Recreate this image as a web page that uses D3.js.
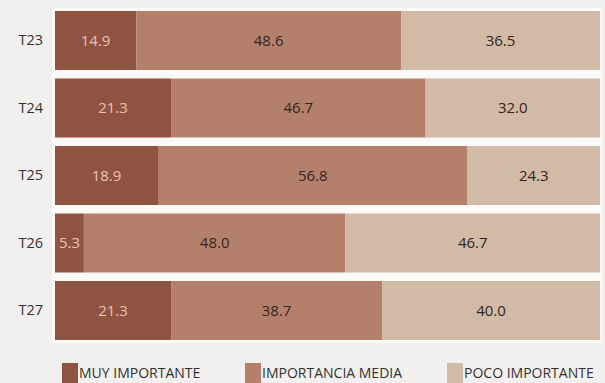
<!DOCTYPE html>
<html>
<head>
<meta charset="utf-8">
<script src="https://cdn.jsdelivr.net/npm/d3@7"></script>
<style>
  html, body { margin: 0; padding: 0; background: #f1f0ee; }
  svg { display: block; }
  text { font-family: "Open Sans", "Noto Sans", sans-serif; }
</style>
</head>
<body>
<svg id="chart" width="605" height="383"></svg>
<script>
// Survey periods and the share (%) of answers in each importance band
const periods = ["T23", "T24", "T25", "T26", "T27"];
const muyImportante = [14.9, 21.3, 18.9, 5.3, 21.3];
const importanciaMedia = [48.6, 46.7, 56.8, 48.0, 38.7];
const pocoImportante = [36.5, 32.0, 24.3, 46.7, 40.0];
const seriesNames = ["MUY IMPORTANTE", "IMPORTANCIA MEDIA", "POCO IMPORTANTE"];

const colors = ["#8e5341", "#b5806b", "#d1baa6"];
const labelColors = ["#e9c4b4", "#35241f", "#35241f"];

const rows = periods.map((p, i) => ({
  period: p,
  [seriesNames[0]]: muyImportante[i],
  [seriesNames[1]]: importanciaMedia[i],
  [seriesNames[2]]: pocoImportante[i]
}));

const svg = d3.select("#chart");
const plotLeft = 55, plotRight = 600, plotTop = 11, plotBottom = 340;

const x = d3.scaleLinear().domain([0, 100]).range([plotLeft, plotRight]);
const y = d3.scaleBand().domain(periods).range([plotTop, plotBottom])
  .paddingInner(0.126).paddingOuter(0);

// light backing behind the bar block
svg.append("rect")
  .attr("x", plotLeft - 3).attr("y", plotTop - 3)
  .attr("width", plotRight - plotLeft + 5).attr("height", plotBottom - plotTop + 6)
  .attr("fill", "#fbfaf9");

const stacked = d3.stack().keys(seriesNames)(rows);

const groups = svg.append("g").selectAll("g")
  .data(stacked).join("g")
  .attr("fill", (d, i) => colors[i]);

groups.selectAll("rect")
  .data(d => d).join("rect")
  .attr("x", d => x(d[0]))
  .attr("y", d => y(d.data.period))
  .attr("width", d => x(d[1]) - x(d[0]))
  .attr("height", y.bandwidth());

// value labels centred in each segment
svg.append("g").selectAll("g")
  .data(stacked).join("g")
  .attr("fill", (d, i) => labelColors[i])
  .selectAll("text")
  .data(d => d).join("text")
  .attr("x", d => (x(d[0]) + x(d[1])) / 2)
  .attr("y", d => y(d.data.period) + y.bandwidth() / 2)
  .attr("dy", "0.35em")
  .attr("text-anchor", "middle")
  .attr("font-size", 15)
  .text(d => (d[1] - d[0]).toFixed(1));

// period axis on the left
const axis = svg.append("g")
  .attr("transform", `translate(${plotLeft},0)`)
  .call(d3.axisLeft(y).tickSize(0).tickPadding(12));
axis.select(".domain").remove();
axis.selectAll("text")
  .attr("font-size", 14.5)
  .attr("fill", "#34302e")
  .style("font-family", "'Open Sans', 'Noto Sans', sans-serif");

// legend
const legendX = [62, 245, 447];
const legend = svg.append("g").selectAll("g")
  .data(seriesNames).join("g")
  .attr("transform", (d, i) => `translate(${legendX[i]},363)`);
legend.append("rect")
  .attr("width", 16).attr("height", 20)
  .attr("fill", (d, i) => colors[i]);
legend.append("text")
  .attr("x", 17).attr("y", 10).attr("dy", "0.35em")
  .attr("font-size", 14)
  .attr("fill", "#34302e")
  .text(d => d);
</script>
</body>
</html>
